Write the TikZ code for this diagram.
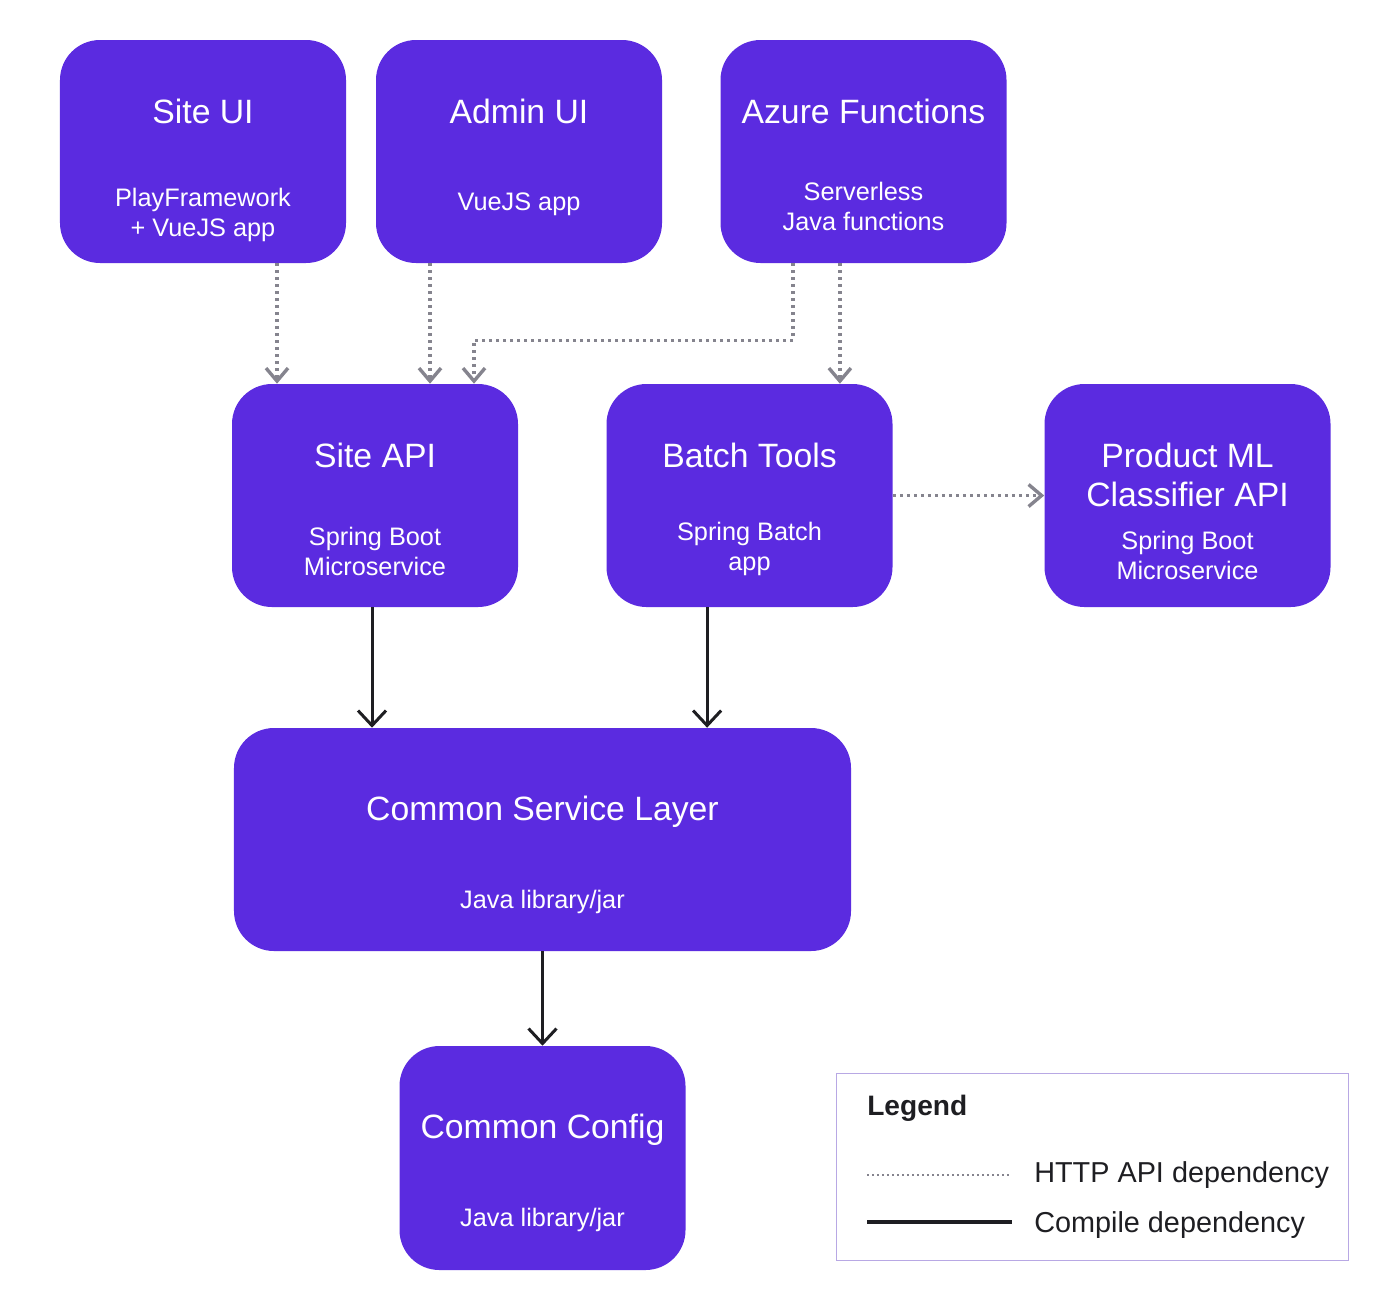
\documentclass[tikz,border=0pt]{standalone}
\usepackage{fontspec}
\setmainfont{Liberation Sans}
\usetikzlibrary{arrows.meta}
\definecolor{boxpurple}{HTML}{5B2BE0}
\definecolor{httpgray}{HTML}{85848E}
\definecolor{compileblack}{HTML}{1E1E22}
\definecolor{legendedge}{HTML}{B8A8E4}
\begin{document}
\begin{tikzpicture}[x=0.25mm,y=-0.25mm,
 box/.style={fill=boxpurple,rounded corners=10mm,minimum width=71.5mm,minimum height=55.75mm,inner sep=0pt},
 ttl/.style={anchor=base,text=white,align=center,font=\fontsize{24}{27.7}\selectfont},
 sub/.style={anchor=base,text=white,align=center,font=\fontsize{18}{21.3}\selectfont},
 legtext/.style={anchor=base west,inner sep=0pt,text=compileblack,font=\fontsize{20.5}{24}\selectfont},
 http/.style={draw=httpgray,line width=0.85mm,dash pattern=on 0.8mm off 0.95mm,-{Straight Barb[length=3.25mm,width=5.5mm]}},
 compile/.style={draw=compileblack,line width=0.75mm,-{Straight Barb[length=3.75mm,width=7mm]}}]
\useasboundingbox (0,0) rectangle (1400,1310);

%boxes
\node[box] (siteui) at (203,151.5) {};
\node[box] (admin) at (519,151.5) {};
\node[box] (azure) at (863.5,151.5) {};
\node[box] (siteapi) at (375,495.5) {};
\node[box] (batch) at (749.5,495.5) {};
\node[box] (product) at (1187.5,495.5) {};
\node[box,minimum width=154.25mm] (csl) at (542.5,839.5) {};
\node[box,minimum height=56mm] (config) at (542.5,1158) {};

%texts (base = last line)
\node[ttl] (siteuiT) at (203,123) {Site UI};
\node[sub] (siteuiS) at (203,236) {PlayFramework\\+ VueJS app};
\node[ttl] (adminT) at (519,123) {Admin UI};
\node[sub] (adminS) at (519,210) {VueJS app};
\node[ttl] (azureT) at (863.5,123) {Azure Functions};
\node[sub] (azureS) at (863.5,230) {Serverless\\Java functions};
\node[ttl] (siteapiT) at (375,467) {Site API};
\node[sub] (siteapiS) at (375,575) {Spring Boot\\Microservice};
\node[ttl] (batchT) at (749.5,467) {Batch Tools};
\node[sub] (batchS) at (749.5,570) {Spring Batch\\app};
\node[ttl] (productT) at (1187.5,506) {Product ML\\Classifier API};
\node[sub] (productS) at (1187.5,579) {Spring Boot\\Microservice};
\node[ttl] (cslT) at (542.5,820) {Common Service Layer};
\node[sub] (cslS) at (542.5,908) {Java library/jar};
\node[ttl] (configT) at (542.5,1138) {Common Config};
\node[sub] (configS) at (542.5,1226) {Java library/jar};

%http dependencies
\coordinate (a1) at ([xshift=18.5mm]siteui.south);
\coordinate (a2) at ([xshift=-22.25mm]admin.south);
\coordinate (a3) at ([xshift=-17.6mm]azure.south);
\coordinate (a4) at ([xshift=-5.9mm]azure.south);
\draw[http] (a1) -- (a1 |- siteapi.north);
\draw[http] (a2) -- (a2 |- siteapi.north);
\draw[http] (a3) -- ++(0,77) -| ([xshift=24.75mm]siteapi.north);
\draw[http] (a4) -- (a4 |- batch.north);
\draw[http] (batch.east) -- (product.west);

%compile dependencies
\coordinate (b1) at ([xshift=-0.75mm]siteapi.south);
\coordinate (b2) at ([xshift=-10.6mm]batch.south);
\draw[compile] (b1) -- (b1 |- csl.north);
\draw[compile] (b2) -- (b2 |- csl.north);
\draw[compile] (csl.south) -- (config.north);

%legend
\node[draw=legendedge,line width=0.25mm,minimum width=128mm,minimum height=46.75mm,inner sep=0pt] (legend) at (1092,1166.5) {};
\node[legtext,font=\bfseries\fontsize{20}{24}\selectfont] (legendT) at (867,1115) {Legend};
\coordinate (l1) at (867,1175);
\coordinate (l2) at (867,1222);
\draw[draw=httpgray,line width=0.5mm,dash pattern=on 0.5mm off 0.75mm] (l1) -- ++(145,0); %legend dotted
\draw[draw=compileblack,line width=0.8mm] (l2) -- ++(145,0); %legend solid
\node[legtext] (httpT) at (1034,1182) {HTTP API dependency};
\node[legtext] (compileT) at (1034,1232) {Compile dependency};
\end{tikzpicture}
\end{document}
